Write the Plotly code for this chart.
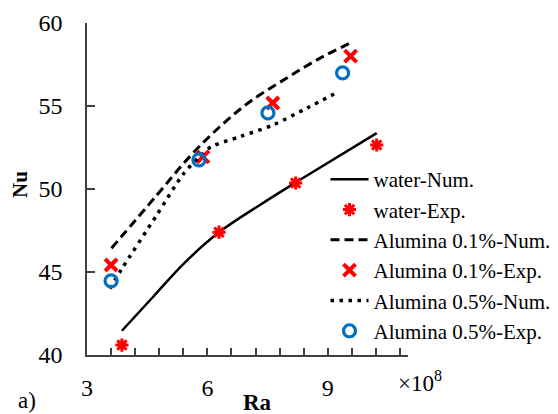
import plotly.graph_objects as go

# ---- data (Ra in units of 1e8) ----
water_num_x = [3.87, 4.65, 5.40, 6.29, 7.31, 8.30, 10.22]
water_num_y = [41.46, 43.51, 45.48, 47.39, 49.04, 50.54, 53.37]
water_exp_x = [3.87, 6.29, 8.20, 10.22]
water_exp_y = [40.6, 47.4, 50.36, 52.65]
al01_num_x = [3.61, 4.73, 5.56, 6.31, 7.06, 7.97, 8.80, 9.55]
al01_num_y = [46.43, 49.6, 51.95, 53.75, 55.26, 56.67, 57.87, 58.78]
al01_exp_x = [3.6, 5.89, 7.63, 9.57]
al01_exp_y = [45.42, 51.93, 55.18, 58.0]
al05_num_x = [3.57, 3.87, 4.73, 5.40, 5.81, 6.10, 6.81, 7.64, 8.47, 9.27]
al05_num_y = [44.0, 45.2, 48.4, 50.9, 51.95, 52.55, 53.15, 53.86, 54.86, 55.86]
al05_exp_x = [3.6, 5.79, 7.51, 9.37]
al05_exp_y = [44.46, 51.75, 54.58, 56.99]

x_major = [3, 6, 9]
y_major = [40, 45, 50, 55, 60]

FONT = "Liberation Serif"
RED = "#FF0000"
BLUE = "#0070C0"

fig = go.Figure()
fig.add_trace(go.Scatter(x=water_num_x, y=water_num_y, mode="lines", name="water-Num.",
                         line=dict(color="black", width=2.5, shape="spline")))
fig.add_trace(go.Scatter(x=water_exp_x, y=water_exp_y, mode="markers", name="water-Exp.",
                         marker=dict(symbol="asterisk-open", size=11, color=RED,
                                     line=dict(color=RED, width=3))))
fig.add_trace(go.Scatter(x=al01_num_x, y=al01_num_y, mode="lines", name="Alumina 0.1%-Num.",
                         line=dict(color="black", width=3, dash="9px,5px", shape="spline")))
fig.add_trace(go.Scatter(x=al01_exp_x, y=al01_exp_y, mode="markers", name="Alumina 0.1%-Exp.",
                         marker=dict(symbol="x-thin-open", size=12, color=RED,
                                     line=dict(color=RED, width=4))))
fig.add_trace(go.Scatter(x=al05_num_x, y=al05_num_y, mode="lines", name="Alumina 0.5%-Num.",
                         line=dict(color="black", width=3.5, dash="3.5px,5.5px",
                                   shape="spline", smoothing=0.8)))
fig.add_trace(go.Scatter(x=al05_exp_x, y=al05_exp_y, mode="markers", name="Alumina 0.5%-Exp.",
                         marker=dict(symbol="circle-open", size=12, color=BLUE,
                                     line=dict(color=BLUE, width=3.2))))

fig.update_layout(
    width=558, height=414,
    margin=dict(l=87, r=150, t=23, b=59, autoexpand=False),
    paper_bgcolor="white", plot_bgcolor="white",
    font=dict(family=FONT, color="black", size=21),
    legend=dict(x=0.743, y=0.59, xanchor="left", yanchor="top",
                font=dict(size=21, family=FONT, color="black"), itemwidth=38,
                bgcolor="rgba(0,0,0,0)"),
    xaxis=dict(range=[3, 11], tickvals=x_major, ticks="inside", ticklen=7,
               tickcolor="#404040", tickwidth=1.5,
               minor=dict(dtick=0.6, tick0=3, ticks="inside", ticklen=7,
                          tickcolor="#404040", tickwidth=1.5),
               showline=True, linecolor="#404040", linewidth=1.5,
               showgrid=False, zeroline=False,
               tickfont=dict(size=24, family=FONT, color="black"), ticklabelstandoff=10),
    yaxis=dict(range=[40, 60], tickvals=y_major, ticks="inside", ticklen=8,
               tickcolor="#404040", tickwidth=1.5,
               showline=True, linecolor="#404040", linewidth=1.5,
               showgrid=False, zeroline=False,
               tickfont=dict(size=24, family=FONT, color="black"), ticklabelstandoff=18),
    annotations=[
        dict(text="<b>Ra</b>", x=257, y=417, yanchor="bottom", showarrow=False,
             font=dict(size=23, family=FONT)),
        dict(text="×10<sup>8</sup>", x=396, y=381, showarrow=False,
             xanchor="left", font=dict(size=23, family=FONT)),
        dict(text="<b>Nu</b>", x=20, y=185, textangle=-90, showarrow=False,
             font=dict(size=21, family=FONT)),
        dict(text="a)", x=27, y=415, yanchor="bottom", showarrow=False,
             font=dict(size=23, family=FONT)),
    ],
)

# convert pixel positions of annotations to paper coordinates
pl, pt, pw, ph = 87, 23, 558 - 87 - 150, 414 - 23 - 59
for a in fig.layout.annotations:
    a.xref = "paper"
    a.yref = "paper"
    a.x = (a.x - pl) / pw
    a.y = 1 - (a.y - pt) / ph
    if a.xanchor is None:
        a.xanchor = "center"
    if a.yanchor is None:
        a.yanchor = "middle"

fig.write_html("out.html")
